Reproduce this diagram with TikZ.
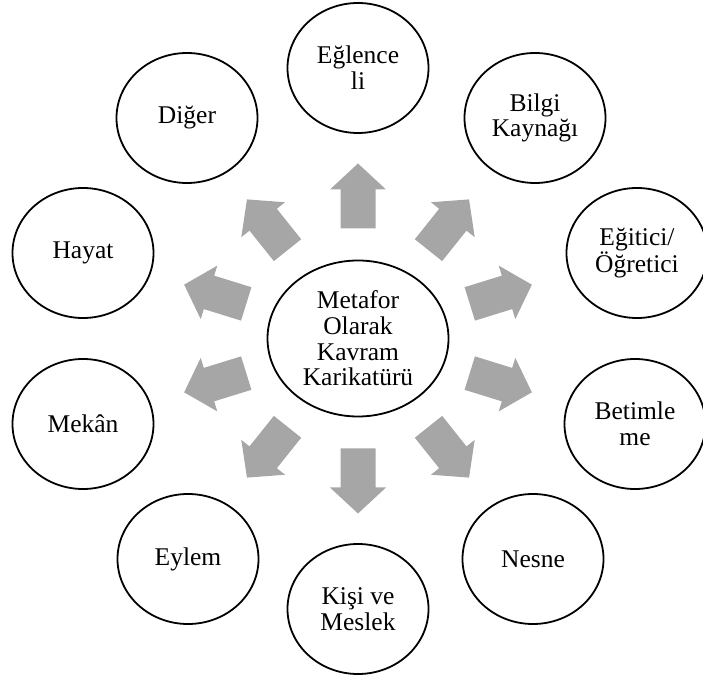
\documentclass[tikz,border=0pt]{standalone}
\usepackage[rgb]{xcolor}
\usepackage{fontspec}
\setmainfont{Liberation Serif}
\usepackage{tikz}
\usetikzlibrary{shapes.geometric}

\definecolor{arrowgray}{HTML}{A6A6A6}

\begin{document}
\begin{tikzpicture}[x=1pt, y=1pt,
  bubble/.style={ellipse, draw=black, line width=1.8pt, minimum width=141pt, minimum height=130pt, inner sep=0pt, align=center, font=\fontsize{25.5}{25.7}\selectfont},
  hub/.style={bubble, minimum width=181pt, minimum height=156pt},
  fatarrow/.style={fill=arrowgray, draw=none}]

\useasboundingbox (0,0) rectangle (703,677);

% metaphor in the middle
\path
(358,338.5) node[hub](meta) {Metafor\\Olarak\\Kavram\\Karikatürü};

% outer categories, clockwise from the top
\path
(358,609)   node[bubble](eglence) {Eğlence\\li}
(535,559)   node[bubble](bilgi)   {Bilgi\\Kaynağı}
(637,424)   node[bubble](egitici) {Eğitici/\\Öğretici}
(635,253)   node[bubble](betim)   {Betimle\\me}
(533,118)   node[bubble](nesne)   {Nesne}
(358,68)    node[bubble](kisi)    {Kişi ve\\Meslek}
(188,118)   node[bubble](eylem)   {Eylem}
(83,253)    node[bubble](mekan)   {Mekân}
(83,424)    node[bubble](hayat)   {Hayat}
(187,559)   node[bubble](diger)   {Diğer};

%% Grey block arrows pointing out from the middle
\foreach \ang/\dist in {90/110, 51.4/113, 17.2/117, -17.2/117, -51.4/113,
                        -90/110, -128.6/113, -162.8/117, 162.8/117, 128.6/113}
  \fill[fatarrow, shift={(meta)}, rotate=\ang]
    (\dist,-17.5) -- ++(39,0) -- ++(0,-10.5) -- ++(26,28)
    -- ++(-26,28) -- ++(0,-10.5) -- ++(-39,0) -- cycle;

\end{tikzpicture}
\end{document}
